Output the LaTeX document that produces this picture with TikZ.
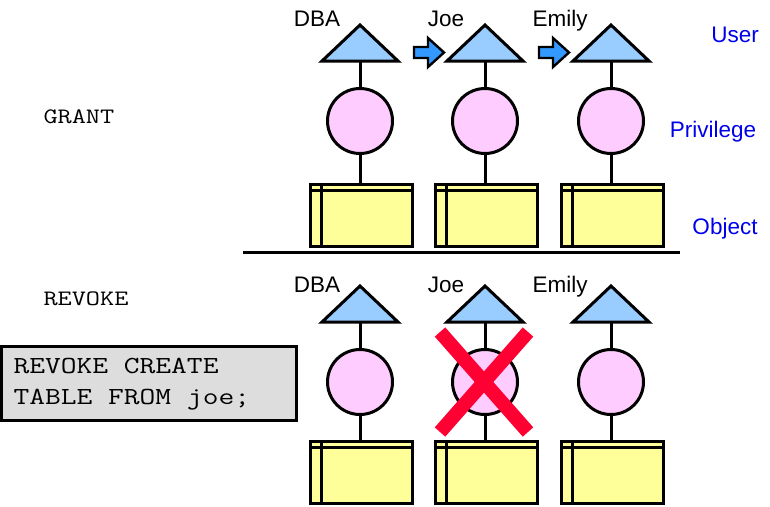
\documentclass[tikz,border=0pt]{standalone}
\usepackage{fontspec}
\newfontfamily\lsans{Liberation Sans}
\usepackage{graphicx}
\definecolor{triblue}{HTML}{99CCFF}
\definecolor{privpink}{HTML}{FFCCFF}
\definecolor{objyellow}{HTML}{FFFF99}
\definecolor{arrblue}{HTML}{3399FF}
\definecolor{codegray}{HTML}{DDDDDD}
\definecolor{xred}{HTML}{FF0033}
\definecolor{lblblue}{RGB}{0,0,235}
\begin{document}
\begin{tikzpicture}[x=1pt,y=-1pt,line width=3pt,
  usertri/.style={draw=black,fill=triblue,line join=miter},
  priv/.style={circle,draw=black,fill=privpink,minimum size=65pt,inner sep=0pt},
  obj/.style={rectangle,draw=black,fill=objyellow,minimum width=102pt,minimum height=62pt,inner sep=0pt},
  blockarrow/.style={draw=black,fill=arrblue,line width=2.4pt,line join=miter},
  who/.style={anchor=base,inner sep=0pt,font=\lsans\fontsize{22.5}{22.5}\selectfont},
  cat/.style={anchor=base,inner sep=0pt,text=lblblue,font=\lsans\fontsize{22.5}{22.5}\selectfont},
  codetxt/.style={anchor=base west,inner sep=0pt},
  xmark/.style={draw=xred,line width=14pt,line cap=butt}]
\useasboundingbox (0,0) rectangle (770,506);

% separator
\coordinate (sepL) at (243,252);
\coordinate (sepR) at (680,252);
\draw (sepL) -- (sepR);

% columns
\foreach \i/\x in {1/360,2/485,3/611}{
  % top row
  \draw[usertri] (\x-38,61) -- (\x,25) -- (\x+38,61) -- cycle;
  \coordinate (tu\i) at (\x,61);
  \node[priv] (tp\i) at (\x,121) {};
  \node[obj] (to\i) at (\x+1.5,215.5) {};
  \draw ([yshift=-7pt]to\i.north west) -- ([yshift=-7pt]to\i.north east);
  \draw ([xshift=12pt]to\i.north west) -- ([xshift=12pt]to\i.south west);
  \draw (tu\i) -- (tp\i.north);
  \draw (tp\i.south) -- (tp\i.south |- to\i.north);
  % bottom row
  \draw[usertri] (\x-38,322) -- (\x,286) -- (\x+38,322) -- cycle;
  \coordinate (bu\i) at (\x,322);
  \node[priv] (bp\i) at (\x,382) {};
  \node[obj] (bo\i) at (\x+1.5,472.5) {};
  \draw ([yshift=-7pt]bo\i.north west) -- ([yshift=-7pt]bo\i.north east);
  \draw ([xshift=12pt]bo\i.north west) -- ([xshift=12pt]bo\i.south west);
  \draw (bu\i) -- (bp\i.north);
  \draw (bp\i.south) -- (bp\i.south |- bo\i.north);
}

% block arrows
\foreach \d in {0,125}{
  \draw[blockarrow] (414+\d,47) -- (428+\d,47) -- (428+\d,38) -- (444+\d,52.5)
    -- (428+\d,67) -- (428+\d,58) -- (414+\d,58) -- cycle;
}

% user names
\node[who] (n1) at (317,27) {DBA};
\node[who] (n2) at (446,27) {Joe};
\node[who] (n3) at (560,27) {Emily};
\node[who] (m1) at (317,292) {DBA};
\node[who] (m2) at (446,292) {Joe};
\node[who] (m3) at (560,292) {Emily};

% categories
\node[cat] (cu) at (735,42) {User};
\node[cat] (cp) at (713,137) {Privilege};
\node[cat] (co) at (725,234) {Object};

% section labels
\node[codetxt] (grant) at (42,123) {\scalebox{1.25}[1]{\ttfamily\fontsize{22}{22}\selectfont GRANT}};
\node[codetxt] (revoke) at (42,305) {\scalebox{1.25}[1]{\ttfamily\fontsize{22}{22}\selectfont REVOKE}};

% code box
\node[rectangle,draw=black,fill=codegray,minimum width=295pt,minimum height=74pt,inner sep=0pt] (code) at (149,383.5) {};
\node[codetxt] (c1) at (12,373) {\scalebox{1.25}[1]{\ttfamily\fontsize{24.5}{24.5}\selectfont REVOKE CREATE}};
\node[codetxt] (c2) at (12,404) {\scalebox{1.25}[1]{\ttfamily\fontsize{24.5}{24.5}\selectfont TABLE FROM joe;}};

% red cross
\draw[xmark] (440,332) -- (528,432);
\draw[xmark] (528,332) -- (440,432);
\end{tikzpicture}
\end{document}
